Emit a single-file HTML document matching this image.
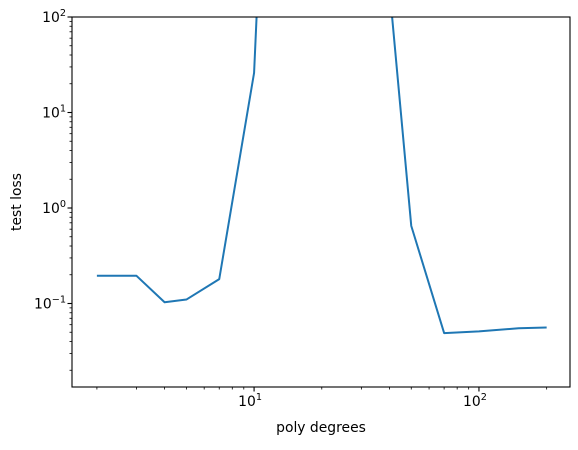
<!DOCTYPE html>
<html><head><meta charset="utf-8"><style>
body{margin:0;background:#fff}
svg text{font-family:"DejaVu Sans","Liberation Sans",sans-serif;fill:#000}
</style></head><body>
<svg id="chart" width="578" height="445" xmlns="http://www.w3.org/2000/svg">
<defs><clipPath id="clip"><rect x="72" y="17" width="498" height="370"/></clipPath></defs>
<g id="axes"></g>
<path id="line" fill="none" stroke="#1f77b4" stroke-width="2" stroke-linejoin="round" clip-path="url(#clip)"/>
<rect x="72" y="17" width="498" height="370" fill="none" stroke="#000" stroke-width="1.1"/>
<text x="321" y="432" font-size="13.9" text-anchor="middle">poly degrees</text>
<text transform="translate(21,202) rotate(-90)" font-size="13.9" text-anchor="middle">test loss</text>
</svg>
<script>
const degrees=[2,3,4,5,7,10,15,20,30,40,50,70,100,150,200];
const losses=[0.195,0.195,0.103,0.11,0.18,26,5e10,1e9,1e6,200,0.65,0.049,0.051,0.055,0.056];
const xTickExps=[1,2];
const yTickExps=[-1,0,1,2];
const L=72,R=570,T=17,B=387;
const xmin=Math.log10(1.55),xmax=Math.log10(254);
const ymin=Math.log10(100)-(B-T)/95.5,ymax=2;
const sx=v=>L+(Math.log10(v)-xmin)/(xmax-xmin)*(R-L);
const sy=v=>B-(Math.log10(v)-ymin)/(ymax-ymin)*(B-T);
const NS="http://www.w3.org/2000/svg";
const ax=document.getElementById('axes');
function mk(tag,attrs){const e=document.createElementNS(NS,tag);for(const k in attrs)e.setAttribute(k,attrs[k]);ax.appendChild(e);return e;}
function label(x,y,exp,anchor){
  const t=mk('text',{x:x,y:y,'font-size':'13.9','text-anchor':anchor});
  
  
  t.textContent='10';
  const s=document.createElementNS(NS,'tspan');s.setAttribute('dy','-6');s.setAttribute('font-size','9.7');s.textContent=(exp<0?'\u2212'+(-exp):exp);t.appendChild(s);
}
for(let e=0;e<=3;e++){for(let m=1;m<10;m++){const v=m*Math.pow(10,e);const x=sx(v);if(x<L-0.1||x>R+0.1)continue;
  const tk=mk('line',{x1:x,x2:x,y1:B,y2:B+(m==1?4.5:2.5),stroke:'#000','stroke-width':m==1?1.1:0.8});
  
  }}
xTickExps.forEach(e=>label(sx(Math.pow(10,e))-4,B+19,e,'middle'));
for(let e=-2;e<=2;e++){for(let m=1;m<10;m++){const v=m*Math.pow(10,e);const y=sy(v);if(y<T-0.1||y>B+0.1)continue;
  const tk=mk('line',{x1:L-(m==1?4.5:2.5),x2:L,y1:y,y2:y,stroke:'#000','stroke-width':m==1?1.1:0.8});
  
  }}
yTickExps.forEach(e=>label(L-6,sy(Math.pow(10,e))+5,e,'end'));
document.getElementById('line').setAttribute('d',degrees.map((d,i)=>(i?'L':'M')+sx(d).toFixed(2)+','+sy(losses[i]).toFixed(2)).join(''));
</script>
</body></html>
